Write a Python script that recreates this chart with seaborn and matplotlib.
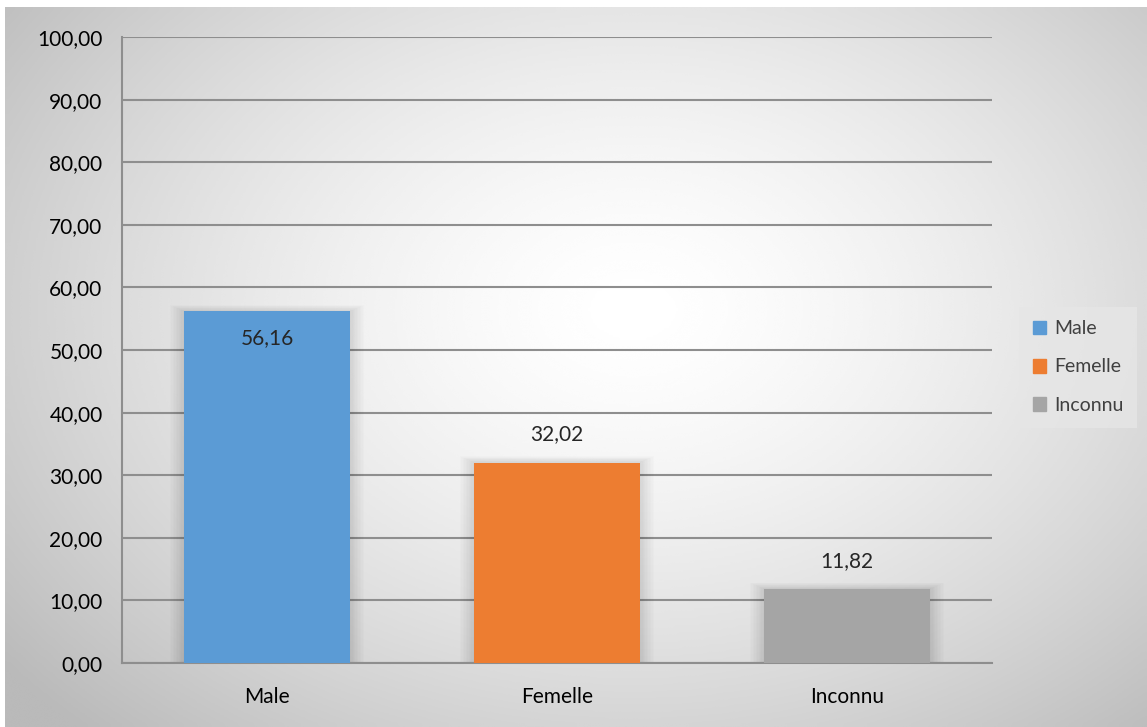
import numpy as np
import pandas as pd
import seaborn as sns
import matplotlib.pyplot as plt
from matplotlib.ticker import FuncFormatter

categories = ['Male', 'Femelle', 'Inconnu']
values = [56.16, 32.02, 11.82]
colors = ['#5B9BD5', '#ED7D31', '#A5A5A5']


def main():
    sns.set_style('white')
    plt.rcParams['font.family'] = ['Lato', 'DejaVu Sans']

    df = pd.DataFrame({'cat': categories, 'val': values})

    fig = plt.figure(figsize=(11.47, 7.27), dpi=100)

    # fond en dégradé radial, style Excel
    bg = fig.add_axes([5 / 1147, 0, 1 - 5 / 1147, 1 - 7 / 727])
    yy, xx = np.mgrid[0:1:300j, 0:1:500j]
    d = np.sqrt(((xx - 0.55) / 0.7) ** 2 + ((yy - 0.42) / 0.8) ** 2)
    shade = 1 - 0.27 * np.clip(d, 0, 1) ** 1.5
    bg.imshow(shade, cmap='gray', vmin=0, vmax=1, aspect='auto',
              extent=[0, 1, 0, 1], interpolation='bicubic')
    bg.set_axis_off()

    ax = fig.add_axes([122 / 1147, 1 - 663 / 727, 870 / 1147, 626 / 727])
    ax.patch.set_alpha(0)
    sns.barplot(data=df, x='cat', y='val', hue='cat', palette=colors,
                width=0.57, saturation=1, ax=ax, legend=False, zorder=3,
                linewidth=0)

    ax.set_ylim(0, 100)
    ax.set_xlim(-0.5, 2.5)
    ax.set_yticks(np.arange(0, 101, 10))
    ax.yaxis.set_major_formatter(FuncFormatter(lambda v, p: f'{v:.2f}'.replace('.', ',')))
    ax.grid(axis='y', color='#8e8e8e', linewidth=1.5, zorder=0)
    ax.set_axisbelow(True)
    for s in ['top', 'right']:
        ax.spines[s].set_visible(False)
    for s in ['left', 'bottom']:
        ax.spines[s].set_color('#8e8e8e')
        ax.spines[s].set_linewidth(1.5)
    ax.tick_params(axis='y', labelsize=15, pad=14, length=0, colors='black')
    ax.tick_params(axis='x', labelsize=15, pad=17, length=0, colors='black')
    ax.set_xlabel('')
    ax.set_ylabel('')

    # ombres douces autour des barres
    for i, v in enumerate(values):
        for k in range(1, 11):
            e = 0.005 * k
            ax.bar(i, v + e * 20, width=0.57 + 2 * e, color='black',
                   alpha=0.01, zorder=2, linewidth=0)

    for i, v in enumerate(values):
        txt = f'{v:.2f}'.replace('.', ',')
        if i == 0:
            ax.text(i, v - 4.3, txt, ha='center', va='center', fontsize=15)
        else:
            ax.text(i, v + 4.5, txt, ha='center', va='center', fontsize=15)

    handles = [plt.Rectangle((0, 0), 1, 1, color=c) for c in colors]
    leg = fig.legend(handles, categories, loc='center left',
                     bbox_to_anchor=(1019 / 1147, 1 - 367 / 727),
                     frameon=True, fontsize=14, handlelength=0.7,
                     handleheight=0.7, labelspacing=1.1, handletextpad=0.4,
                     borderpad=0.7, borderaxespad=0, fancybox=False)
    leg.get_frame().set_facecolor('#e6e6e6')
    leg.get_frame().set_edgecolor('none')
    for t in leg.get_texts():
        t.set_color('#404040')

    fig.savefig('out.png', dpi=100)


if __name__ == '__main__':
    main()
